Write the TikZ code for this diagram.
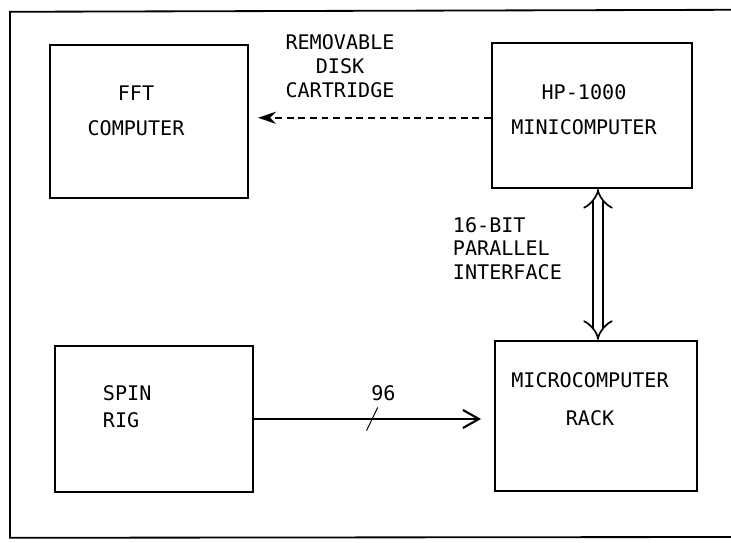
\documentclass[tikz,border=0pt]{standalone}
\usepackage{fontspec}
\setmonofont{DejaVu Sans Mono}
\usepackage{tikz}
\usetikzlibrary{arrows.meta, calc, positioning}

\tikzset{
  block/.style={draw, line width=1.6pt, inner sep=0pt},
  tapeline/.style={line width=1.4pt, dash pattern=on 0.17cm off 0.12cm,
    -{Stealth[length=0.45cm, width=0.3cm]}},
  wordbus/.style={double, double distance=0.22cm, line width=1.2pt,
    {Implies}-{Implies}},
  chanline/.style={line width=1.5pt, -{Straight Barb[length=0.4cm, width=0.45cm]}}
}

\begin{document}
\begin{tikzpicture}[font=\ttfamily\fontsize{14.3}{17}\selectfont]
\useasboundingbox (0,0) rectangle (18.275,13.575);
% outer frame, open at the right
\draw[line width=1.3pt] (18.275,13.33) -- (0.25,13.28) -- (0.25,0.13) -- (18.275,0.15);

% the four units
\node[block, minimum width=4.95cm, minimum height=3.825cm] (fft) at (3.725,10.54) {};
\node[block, minimum width=5.0cm, minimum height=3.625cm] (hp) at (14.8,10.69) {};
\node[block, minimum width=4.95cm, minimum height=3.65cm] (spin) at (3.85,3.1) {};
\node[block, minimum width=5.05cm, minimum height=3.75cm] (rack) at (14.9,3.175) {};

\node[align=center] (fftname) at (3.4,10.81) {FFT\\[8pt]COMPUTER};
\node[align=center] (hpname) at (14.6,10.84) {HP-1000\\[8pt]MINICOMPUTER};
\node[anchor=west, align=left] (spinname) at (2.45,3.41) {SPIN\\[2pt]RIG};
\node[align=center] (rackname) at (14.75,3.6) {MICROCOMPUTER\\[10pt]RACK};

% links
\draw[tapeline] ([yshift=-0.06cm]hp.west) -- ($([yshift=-0.06cm]hp.west -| fft.east)+(0.22,0)$);
\node[align=center] (disk) at (8.5,11.93) {REMOVABLE\\DISK\\CARTRIDGE};

\draw[wordbus] ([xshift=0.15cm]hp.south) -- ([xshift=0.15cm]hp.south |- rack.north);
\node[anchor=west, align=left] (iface) at (11.2,7.36) {16-BIT\\PARALLEL\\INTERFACE};

\draw[chanline] (spin.east) -- ($(rack.west |- spin.east)+(-0.32,0)$)
    coordinate[pos=0.52] (tick) node[pos=0.57, yshift=0.65cm] (nbits) {96};
\draw[line width=0.7pt] ($(tick)+(0.14,0.29)$) -- ($(tick)+(-0.14,-0.29)$);
\end{tikzpicture}
\end{document}
